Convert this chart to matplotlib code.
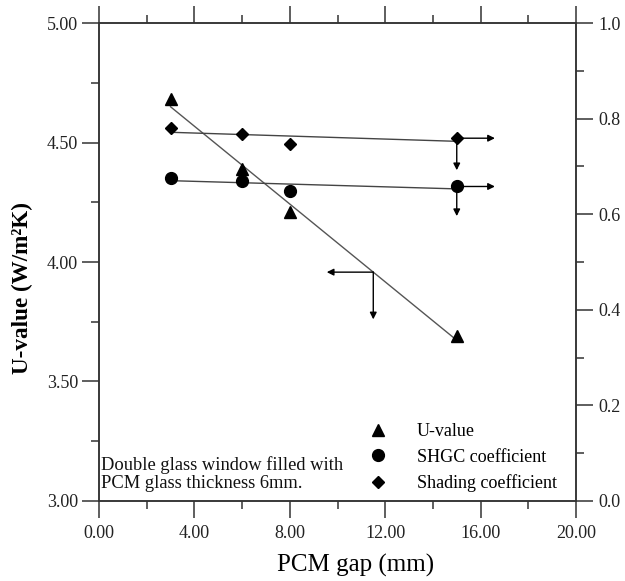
import numpy as np
import matplotlib
matplotlib.use("Agg")
import matplotlib.pyplot as plt
from matplotlib.ticker import MultipleLocator, FormatStrFormatter

# ---- data ----
gap = [3, 6, 8, 15]
u_value = [4.68, 4.39, 4.21, 3.69]
shgc = [0.676, 0.669, 0.649, 0.658]
shading = [0.780, 0.768, 0.747, 0.759]

legend_labels = ["U-value", "SHGC coefficient", "Shading coefficient"]
note_text = "Double glass window filled with\nPCM glass thickness 6mm."

plt.rcParams['font.family'] = ['Liberation Serif', 'DejaVu Serif']

fig = plt.figure(figsize=(6.25, 5.81), dpi=100)
ax1 = fig.add_axes([0.1584, 0.1377, 0.7632, 0.8227])
ax2 = ax1.twinx()

spine_c = '#333333'
lw_sp = 1.1

# fitted lines
xs = np.array([min(gap), max(gap)], dtype=float)
pu = np.polyfit(gap, u_value, 1)
ps = np.polyfit(gap, shgc, 1)
pd_ = np.polyfit(gap, shading, 1)
ax1.plot(xs, np.polyval(pu, xs), color='#555555', lw=1.0, zorder=2)
ax2.plot(xs, np.polyval(ps, xs), color='#444444', lw=1.0, zorder=2)
ax2.plot(xs, np.polyval(pd_, xs), color='#444444', lw=1.0, zorder=2)

hu, = ax1.plot(gap, u_value, ls='none', marker='^', ms=8.5, color='black', zorder=3)
hs, = ax2.plot(gap, shgc, ls='none', marker='o', ms=8.5, color='black', zorder=3)
hd, = ax2.plot(gap, shading, ls='none', marker='D', ms=6.5, color='black', zorder=3)

# arrows indicating axes
ap = dict(arrowstyle='-|>', color='black', lw=1.0, mutation_scale=10, shrinkA=0, shrinkB=0)
xc = 11.5
yc = np.polyval(pu, xc)
ax1.annotate('', xy=(9.55, yc), xytext=(xc, yc), arrowprops=ap)
ax1.annotate('', xy=(xc, 3.76), xytext=(xc, yc), arrowprops=ap)
for yv, ydown in [(shading[-1], 0.692), (shgc[-1], 0.596)]:
    ax2.annotate('', xy=(16.6, yv), xytext=(gap[-1], yv), arrowprops=ap)
    ax2.annotate('', xy=(gap[-1], ydown), xytext=(gap[-1], yv), arrowprops=ap)

# axes limits / ticks
ax1.set_xlim(0, 20)
ax1.set_ylim(3.0, 5.0)
ax2.set_ylim(0.0, 1.0)
ax1.xaxis.set_major_locator(MultipleLocator(4))
ax1.xaxis.set_minor_locator(MultipleLocator(2))
ax1.yaxis.set_major_locator(MultipleLocator(0.5))
ax1.yaxis.set_minor_locator(MultipleLocator(0.25))
ax2.yaxis.set_major_locator(MultipleLocator(0.2))
ax2.yaxis.set_minor_locator(MultipleLocator(0.1))
ax1.xaxis.set_major_formatter(FormatStrFormatter('%.2f'))
ax1.yaxis.set_major_formatter(FormatStrFormatter('%.2f'))
ax2.yaxis.set_major_formatter(FormatStrFormatter('%.1f'))

for a in (ax1, ax2):
    for s in a.spines.values():
        s.set_color(spine_c)
        s.set_linewidth(lw_sp)
tl = 13
ax1.tick_params(axis='x', which='both', direction='out', top=True, colors=spine_c,
                labelcolor='#222222', labelsize=tl, width=lw_sp)
ax1.tick_params(axis='x', which='major', length=12, pad=5)
ax1.tick_params(axis='x', which='minor', length=6)
ax1.tick_params(axis='y', which='both', direction='out', colors=spine_c,
                labelcolor='#222222', labelsize=tl, width=lw_sp)
ax1.tick_params(axis='y', which='major', length=12, pad=3)
ax1.tick_params(axis='y', which='minor', length=6)
ax2.tick_params(axis='y', which='both', direction='out', colors=spine_c,
                labelcolor='#222222', labelsize=tl, width=lw_sp)
ax2.tick_params(axis='y', which='major', length=12, pad=4)
ax2.tick_params(axis='y', which='minor', length=6)

ax1.set_xlabel('PCM gap (mm)', fontsize=18)
ax1.xaxis.set_label_coords(0.537, -0.11, transform=ax1.transAxes)
ax1.xaxis.label.set_va('top')
ax1.set_ylabel('U-value (W/m\u00b2K)', fontsize=16.7, fontweight='bold')
ax1.yaxis.set_label_coords(-0.138, 0.446, transform=ax1.transAxes)

ax1.text(0.005, 0.093, note_text, transform=ax1.transAxes, fontsize=13.3,
         ha='left', va='top', linespacing=1.06, color='#111111')

leg = ax1.legend([hu, hs, hd], legend_labels, loc='lower left',
                 bbox_to_anchor=(0.542, 0.003), frameon=False, fontsize=13,
                 handletextpad=1.4, labelspacing=0.48, handlelength=1.5,
                 borderaxespad=0)
leg.set_zorder(5)

fig.savefig('out.png', dpi=100)
